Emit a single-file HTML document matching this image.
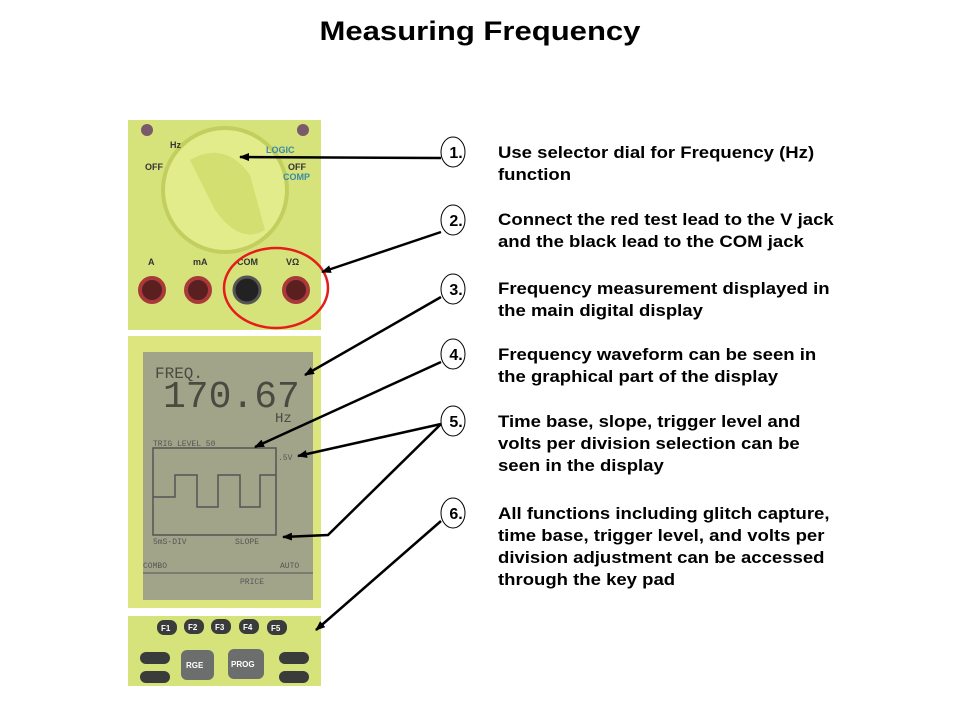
<!DOCTYPE html>
<html><head><meta charset="utf-8"><style>
body{margin:0;width:960px;height:720px;background:#fff;overflow:hidden;font-family:"Liberation Sans",sans-serif}
.t{position:absolute;left:498px;font-weight:bold;font-size:17px;line-height:22px;color:#000;white-space:nowrap;transform:scaleX(1.09);transform-origin:0 0}
</style></head><body>
<div style="position:absolute;left:0;width:960px;top:16px;text-align:center;font-weight:bold;font-size:27px;transform:scaleX(1.15);transform-origin:480px 0">Measuring Frequency</div>
<svg width="960" height="720" style="position:absolute;left:0;top:0">
<defs><marker id="a" markerWidth="10" markerHeight="8" refX="9" refY="4" orient="auto" markerUnits="userSpaceOnUse"><path d="M0,0 L10,4 L0,8 z" fill="#000"/></marker></defs>
<rect x="128" y="120" width="193" height="210" fill="#d6e27a"/>
<circle cx="147" cy="130" r="6" fill="#7a5a6a"/><circle cx="303" cy="130" r="6" fill="#7a5a6a"/>
<circle cx="225" cy="190" r="62" fill="#e2ec8a" stroke="#c2cf5e" stroke-width="4"/>
<path d="M190,160 Q225,140 250,175 L265,230 Q240,245 215,210 Z" fill="#d3df70"/>
<g font-size="9" font-weight="bold" fill="#333"><text x="145" y="170">OFF</text><text x="288" y="170">OFF</text><text x="170" y="148">Hz</text><text x="266" y="153" fill="#3a8aa8">LOGIC</text><text x="283" y="180" fill="#3a8aa8">COMP</text><text x="148" y="265">A</text><text x="193" y="265">mA</text><text x="237" y="265">COM</text><text x="286" y="265">VΩ</text></g>
<g fill="#5a2020" stroke="#aa3a3a" stroke-width="4"><circle cx="152" cy="290" r="12"/><circle cx="198" cy="290" r="12"/><circle cx="296" cy="290" r="12"/></g>
<circle cx="247" cy="290" r="13" fill="#222" stroke="#555" stroke-width="3"/>
<ellipse cx="276" cy="288" rx="52" ry="40" fill="none" stroke="#e41c1c" stroke-width="2.5"/>
<rect x="128" y="336" width="193" height="272" fill="#dde67e"/>
<rect x="143" y="352" width="170" height="248" fill="#a2a48a"/>
<g fill="#4a4a40" font-family="Liberation Mono"><text x="155" y="378" font-size="16">FREQ.</text><text x="163" y="407" font-size="38">170.67</text><text x="275" y="422" font-size="14">Hz</text></g>
<rect x="153" y="448" width="123" height="87" fill="none" stroke="#555" stroke-width="1.5"/>
<path d="M153,497 H175 V475 H197 V507 H218 V475 H240 V507 H260 V475 H276" fill="none" stroke="#555" stroke-width="1.5"/>
<g font-size="8" fill="#555" font-family="Liberation Mono"><text x="153" y="446">TRIG LEVEL 50</text><text x="278" y="460">.5V</text><text x="153" y="544">5mS-DIV</text><text x="235" y="544">SLOPE</text><text x="143" y="568">COMBO</text><text x="280" y="568">AUTO</text><text x="240" y="584">PRICE</text></g>
<line x1="143" y1="573" x2="313" y2="573" stroke="#555"/>
<rect x="128" y="616" width="193" height="70" fill="#d6e27a"/>
<g fill="#3a3c3c"><rect x="157" y="620" width="20" height="15" rx="7"/><rect x="184" y="619" width="20" height="15" rx="7"/><rect x="211" y="619" width="20" height="15" rx="7"/><rect x="239" y="619" width="20" height="15" rx="7"/><rect x="267" y="620" width="20" height="15" rx="7"/>
<rect x="140" y="652" width="30" height="12" rx="6"/><rect x="140" y="671" width="30" height="12" rx="6"/><rect x="279" y="652" width="30" height="12" rx="6"/><rect x="279" y="671" width="30" height="12" rx="6"/></g>
<g fill="#6c6e6e"><rect x="181" y="650" width="33" height="30" rx="6"/><rect x="228" y="649" width="36" height="30" rx="6"/></g>
<g fill="#fff" font-size="8" font-weight="bold"><text x="161" y="631">F1</text><text x="188" y="630">F2</text><text x="215" y="630">F3</text><text x="243" y="630">F4</text><text x="271" y="631">F5</text><text x="186" y="668">RGE</text><text x="231" y="667">PROG</text></g>
<g stroke="#000" stroke-width="2.5" fill="none" marker-end="url(#a)">
<line x1="441" y1="158" x2="240" y2="157"/>
<line x1="441" y1="232" x2="322" y2="272"/>
<line x1="441" y1="297" x2="305" y2="375"/>
<line x1="441" y1="362" x2="255" y2="447"/>
<line x1="441" y1="424" x2="298" y2="456"/>
<polyline points="441,424 328,535 283,537"/>
<line x1="441" y1="521" x2="316" y2="630"/>
</g>
<g fill="#fff" stroke="#000" stroke-width="1"><ellipse cx="453" cy="152" rx="12" ry="15"/><ellipse cx="453" cy="220" rx="12" ry="15"/><ellipse cx="453" cy="289" rx="12" ry="15"/><ellipse cx="453" cy="354" rx="12" ry="15"/><ellipse cx="453" cy="421" rx="12" ry="15"/><ellipse cx="453" cy="513" rx="12" ry="15"/></g>
<g font-size="16" font-weight="bold" text-anchor="middle"><text x="456" y="158">1.</text><text x="456" y="226">2.</text><text x="456" y="295">3.</text><text x="456" y="360">4.</text><text x="456" y="427">5.</text><text x="456" y="519">6.</text></g>
</svg>
<div class="t" style="top:142px">Use selector dial for Frequency (Hz)<br>function</div>
<div class="t" style="top:209px">Connect the red test lead to the V jack<br>and the black lead to the COM jack</div>
<div class="t" style="top:278px">Frequency measurement displayed in<br>the main digital display</div>
<div class="t" style="top:344px">Frequency waveform can be seen in<br>the graphical part of the display</div>
<div class="t" style="top:411px">Time base, slope, trigger level and<br>volts per division selection can be<br>seen in the display</div>
<div class="t" style="top:503px">All functions including glitch capture,<br>time base, trigger level, and volts per<br>division adjustment can be accessed<br>through the key pad</div>
</body></html>
